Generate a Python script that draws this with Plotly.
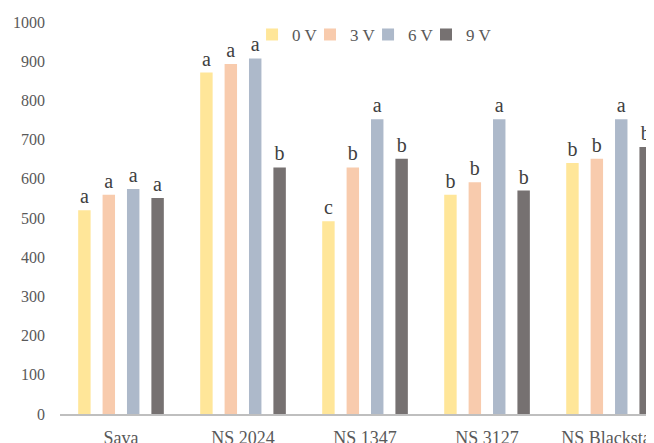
import plotly.graph_objects as go

categories = ["Sava", "NS 2024", "NS 1347", "NS 3127", "NS Blackstar"]
series_names = ["0 V", "3 V", "6 V", "9 V"]
v0 = [520, 871, 492, 559, 640]
v3 = [559, 893, 629, 591, 651]
v6 = [574, 907, 752, 752, 752]
v9 = [551, 629, 651, 570, 681]
l0 = ["a", "a", "c", "b", "b"]
l3 = ["a", "a", "b", "b", "b"]
l6 = ["a", "a", "a", "a", "a"]
l9 = ["a", "b", "b", "b", "b"]
y_ticks = [0, 100, 200, 300, 400, 500, 600, 700, 800, 900, 1000]

colors = ["#FFE699", "#F8CBAD", "#ADB9CA", "#767171"]
values = [v0, v3, v6, v9]
letters = [l0, l3, l6, l9]
legend_ids = ["legend", "legend2", "legend3", "legend4"]
legend_x = [0.319, 0.4153, 0.5117, 0.608]

font_family = "Liberation Serif, Times New Roman, serif"

fig = go.Figure()
for name, vals, labs, col, lid in zip(series_names, values, letters, colors, legend_ids):
    fig.add_trace(go.Bar(
        x=categories, y=vals, name=name, legend=lid,
        marker=dict(color=col, line=dict(width=0)),
        text=labs, textposition="outside", constraintext="none",
        textfont=dict(family=font_family, size=20, color="#404040"),
        cliponaxis=False,
    ))

legend_style = dict(
    orientation="h", y=0.967, xanchor="left", yanchor="middle",
    font=dict(family=font_family, size=17, color="#595959"),
    bgcolor="rgba(0,0,0,0)", itemwidth=30,
)
legends = {lid: dict(x=lx, **legend_style) for lid, lx in zip(legend_ids, legend_x)}

fig.update_layout(
    width=654, height=443,
    margin=dict(l=52, r=0, t=14, b=37, autoexpand=False),
    paper_bgcolor="white", plot_bgcolor="white",
    barmode="group", bargap=0.2, bargroupgap=0.49,
    font=dict(family=font_family, size=16, color="#595959"),
    showlegend=True,
    xaxis=dict(
        range=[-0.5, 4.434], showgrid=False, showline=True,
        linecolor="#BFBFBF", linewidth=2, ticks="", automargin=False,
        ticklabelstandoff=6,
        tickfont=dict(family=font_family, size=18, color="#595959"),
    ),
    yaxis=dict(
        range=[0, 1000], tickvals=y_ticks, showgrid=False, showline=False,
        zeroline=False, ticks="", ticklabelstandoff=14, automargin=False,
        tickfont=dict(family=font_family, size=16, color="#595959"),
    ),
    **legends,
)

fig.write_html("out.html")
